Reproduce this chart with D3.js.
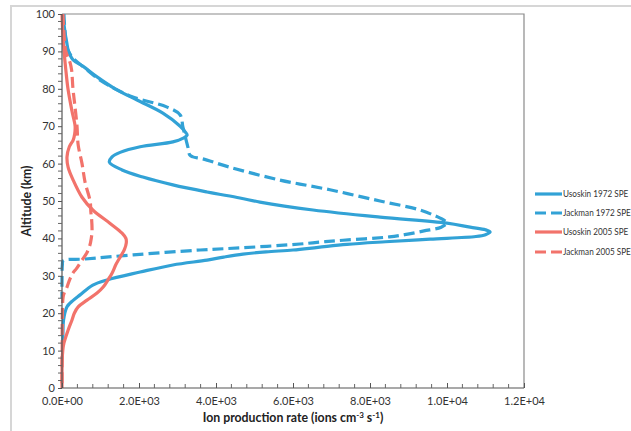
<!DOCTYPE html>
<html><head><meta charset="utf-8">
<script src="https://cdn.jsdelivr.net/npm/d3@7"></script>
<style>html,body{margin:0;padding:0;background:#fff;}svg{display:block;font-family:Lato,"Open Sans",sans-serif;}</style>
</head><body><svg id="c" width="631" height="431"></svg>
<script>
// ---- data: [altitude km, ion production rate] ----
const usoskin1972 = [[100,20],[95,80],[92,130],[90.4,160],[87.7,290],[86,550],[83.2,910],[80,1380],[77,1950],[73.5,2620],[70,3070],[68.5,3200],[67.6,3250],[66.8,3150],[65.8,2880],[64.5,2030],[63,1510],[61.8,1300],[60.4,1230],[58.3,1560],[56.4,2100],[54.3,2880],[52.4,3770],[50.8,4620],[49.7,5140],[47.6,6520],[45.7,8260],[44.1,10000],[43,10600],[42.3,11000],[41.7,11120],[41,11000],[40.5,10750],[39.8,9560],[39.1,8400],[38.4,7400],[37.6,6650],[36.9,6000],[36.4,5300],[35.8,4700],[35,4200],[34.2,3770],[32.9,2880],[31,2030],[28.9,1170],[27.5,800],[24.9,470],[22.7,210],[21.7,130],[18.2,40],[15,25],[12,20]];
const jackman1972 = [[100,50],[95,80],[91,130],[88.5,260],[85.5,600],[82.3,990],[80,1380],[77.8,1840],[75.1,2730],[73,3070],[69.8,3140],[64.4,3270],[62.3,3320],[61.8,3400],[61.3,3640],[59,4370],[55.6,5660],[53,6960],[50,8260],[47.6,9300],[46,9700],[45,9900],[44.2,10000],[43,9850],[42,9400],[41,8900],[40.4,8500],[39.5,7300],[39,6700],[38.5,6180],[37.5,4700],[36.9,3590],[35.6,1850],[34.5,600],[34,30],[33,10],[28,0],[24,0]];
const usoskin2005 = [[100,0],[95,20],[90.4,50],[85,100],[80,155],[74,260],[70,340],[68,330],[66.3,290],[64.5,190],[61.8,130],[59,160],[55.6,290],[51,520],[47.6,800],[44,1250],[41.4,1560],[40,1660],[38.8,1670],[37,1620],[35,1510],[33,1400],[30.7,1300],[29,1200],[27,1070],[25.4,910],[23.5,650],[21.7,420],[20,320],[18.2,260],[15.5,160],[12,50],[10,20],[7.5,5],[0,0]];
const jackman2005 = [[100,25],[95,50],[90,100],[87,210],[85,250],[80,285],[75,340],[70,390],[65,420],[60,520],[55,600],[50,730],[47,750],[45,770],[42,780],[40,760],[38,720],[37,680],[36,640],[34.2,520],[32,380],[30.7,280],[29,200],[27,130],[25.5,60],[24.4,30],[20,10],[10,5],[0,0]];
const seriesNames = ["Usoskin 1972 SPE","Jackman 1972 SPE","Usoskin 2005 SPE","Jackman 2005 SPE"];
const xTicks = [0,2000,4000,6000,8000,10000,12000];
const xTickLabels = ["0.0E+00","2.0E+03","4.0E+03","6.0E+03","8.0E+03","1.0E+04","1.2E+04"];
const yTicks = [0,10,20,30,40,50,60,70,80,90,100];

const BLUE = "#32a2d6", RED = "#f2736b";
const series = [
  {name: seriesNames[0], data: usoskin1972, color: BLUE, dash: null},
  {name: seriesNames[1], data: jackman1972, color: BLUE, dash: "11,5"},
  {name: seriesNames[2], data: usoskin2005, color: RED, dash: null},
  {name: seriesNames[3], data: jackman2005, color: RED, dash: "11,5"}
];

const svg = d3.select("#c");
const L = 62, R = 524, T = 14, B = 388;
const x = d3.scaleLinear().domain([0,12000]).range([L,R]);
const y = d3.scaleLinear().domain([0,100]).range([B,T]);

// outer frame
svg.append("path").attr("d","M11,431V6H631").attr("fill","none").attr("stroke","#d6d6d6").attr("stroke-width",2);

// plot box top/right
svg.append("path").attr("d",`M${L},${T}H${R}V${B}`).attr("fill","none").attr("stroke","#8a8a8a").attr("stroke-width",1.2);

// lines
const line = d3.line().x(d=>x(d[1])).y(d=>y(d[0])).curve(d3.curveCatmullRom.alpha(0.5));
const g = svg.append("g");
series.forEach(s=>{
  g.append("path").attr("d", line(s.data)).attr("fill","none")
   .attr("stroke", s.color).attr("stroke-width",3.2)
   .attr("stroke-dasharray", s.dash).attr("stroke-linejoin","round");
});

// y axis
const yAxis = svg.append("g").attr("transform",`translate(${L},0)`)
  .call(d3.axisLeft(y).tickValues(yTicks).tickSize(4).tickPadding(3).tickFormat(d3.format("d")));
const yMinor = d3.range(0,101,2).filter(v=>v%10!==0);
svg.append("g").selectAll("line").data(yMinor).join("line")
  .attr("x1",L-4).attr("x2",L).attr("y1",d=>y(d)).attr("y2",d=>y(d)).attr("stroke","#666").attr("stroke-width",1);

// x axis
const xAxis = svg.append("g").attr("transform",`translate(0,${B})`)
  .call(d3.axisBottom(x).tickValues(xTicks).tickSize(-5).tickPadding(9).tickFormat((d,i)=>xTickLabels[i]));
const xMinor = d3.range(0,12001,400).filter(v=>v%2000!==0);
svg.append("g").selectAll("line").data(xMinor).join("line")
  .attr("x1",d=>x(d)).attr("x2",d=>x(d)).attr("y1",B-4).attr("y2",B).attr("stroke","#666").attr("stroke-width",1);

[yAxis,xAxis].forEach(a=>{
  a.select(".domain").attr("stroke","#555").attr("stroke-width",1.2);
  a.selectAll(".tick line").attr("stroke","#555");
  a.selectAll(".tick text").attr("fill","#333").attr("font-size","11px").attr("font-family","Lato,sans-serif");
});
xAxis.select(".domain").attr("d",`M${L},0H${R}`);
yAxis.select(".domain").attr("d",`M0,${T}V${B}`);

// axis titles
const xt = svg.append("text").attr("x",(L+R)/2).attr("y",422).attr("text-anchor","middle")
  .attr("font-weight","bold").attr("font-size","12.3px").attr("fill","#222");
xt.append("tspan").text("Ion production rate (ions cm");
xt.append("tspan").attr("dy",-4).attr("font-size","8px").text("-3");
xt.append("tspan").attr("dy",4).text(" s");
xt.append("tspan").attr("dy",-4).attr("font-size","8px").text("-1");
xt.append("tspan").attr("dy",4).text(")");

svg.append("text").attr("transform",`translate(31,${(T+B)/2}) rotate(-90)`).attr("text-anchor","middle")
  .attr("font-weight","bold").attr("font-size","12.3px").attr("fill","#222").text("Altitude (km)");

// legend
const legY = [194,213,232,252];
const leg = svg.append("g");
series.forEach((s,i)=>{
  leg.append("line").attr("x1",535).attr("x2",562).attr("y1",legY[i]).attr("y2",legY[i])
    .attr("stroke",s.color).attr("stroke-width",3.2).attr("stroke-dasharray",s.dash);
  leg.append("text").attr("transform",`translate(563,${legY[i]+3.3}) scale(0.86,1)`)
    .attr("font-size","9.5px").attr("fill","#333").text(s.name);
});
</script></body></html>
